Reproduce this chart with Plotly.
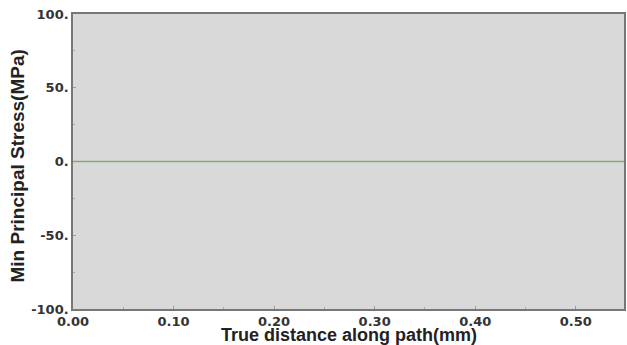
import plotly.graph_objects as go

distance_mm = [0.0, 0.1, 0.2, 0.3, 0.4, 0.5, 0.548]
min_principal_stress = [0.0, 0.0, 0.0, 0.0, 0.0, 0.0, 0.0]

x_tickvals = [0.0, 0.1, 0.2, 0.3, 0.4, 0.5]
x_ticktext = ["0.00", "0.10", "0.20", "0.30", "0.40", "0.50"]
y_tickvals = [-100, -50, 0, 50, 100]
y_ticktext = ["-100.", "-50.", "0.", "50.", "100."]

x_title = "True distance along path(mm)"
y_title = "Min Principal Stress(MPa)"

fig = go.Figure()
fig.add_trace(go.Scatter(x=distance_mm, y=min_principal_stress, mode="lines",
                         line=dict(color="#86ab74", width=1.5), showlegend=False))

tick_font = dict(size=13, family="DejaVu Sans", weight="bold", color="#333333")
xtitle_font = dict(size=18, family="Liberation Sans", weight="bold", color="#222222")
ytitle_font = dict(size=19, family="Liberation Sans", weight="bold", color="#222222")

fig.update_layout(
    width=627, height=345,
    margin=dict(l=73, r=3, t=14, b=36),
    paper_bgcolor="white", plot_bgcolor="#d9d9d9",
    font=dict(family="DejaVu Sans", color="#222222"),
    annotations=[
        dict(text=x_title, xref="paper", yref="paper", x=0.5, y=0, yshift=-26, xshift=0,
             xanchor="center", yanchor="middle", showarrow=False, font=xtitle_font),
        dict(text=y_title, xref="paper", yref="paper", x=0, y=0.5, xshift=-56, yshift=-5,
             xanchor="center", yanchor="middle", textangle=-90, showarrow=False, font=ytitle_font),
    ],
)
fig.update_xaxes(
    automargin=False,
    range=[0, 0.548], tickvals=x_tickvals, ticktext=x_ticktext, tickfont=tick_font,
    showgrid=False, zeroline=False, showline=True, linecolor="#777777", linewidth=1.5,
    mirror=True, ticks="inside", ticklen=3, tickcolor="#999999",
    minor=dict(tickvals=[0.05, 0.15, 0.25, 0.35, 0.45], ticks="inside", ticklen=2, tickcolor="#aaaaaa"),
)
fig.update_yaxes(
    automargin=False,
    range=[-100, 100], tickvals=y_tickvals, ticktext=y_ticktext, tickfont=tick_font,
    showgrid=False, zeroline=False, showline=True, linecolor="#777777", linewidth=1.5,
    mirror=True, ticks="inside", ticklen=3, tickcolor="#999999",
    minor=dict(tickvals=[-75, -25, 25, 75], ticks="inside", ticklen=2, tickcolor="#aaaaaa"),
)
fig.write_html("out.html", config={"displayModeBar": False},
               post_script="document.body.style.margin='0';")
